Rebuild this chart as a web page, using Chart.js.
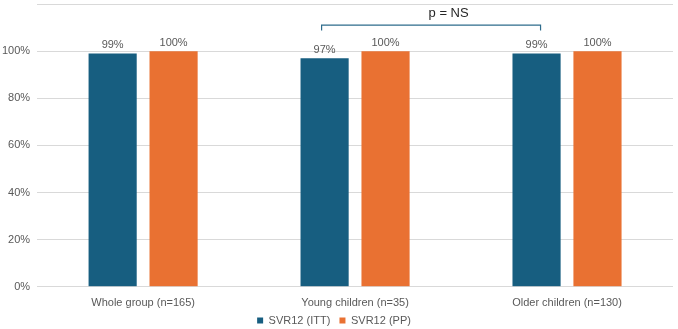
<!DOCTYPE html>
<html>
<head>
<meta charset="utf-8">
<script src="https://cdn.jsdelivr.net/npm/chart.js@4"></script>
<style>
  html, body { margin: 0; padding: 0; background: #fff; }
  #wrap { width: 678px; height: 329px; }
</style>
</head>
<body>
<div id="wrap"><canvas id="myChart"></canvas></div>
<script>
  const labels = ['Whole group (n=165)', 'Young children (n=35)', 'Older children (n=130)'];
  const ittValues = [99, 97, 99];
  const ppValues = [100, 100, 100];
  const seriesNames = ['SVR12 (ITT)', 'SVR12 (PP)'];
  const pLabel = 'p = NS';

  const grey = '#595959';
  const fontFam = '"Liberation Sans", Arial, sans-serif';

  // value labels above each bar
  const valueLabels = {
    id: 'valueLabels',
    afterDatasetsDraw(chart) {
      const ctx = chart.ctx;
      ctx.save();
      ctx.font = '11px ' + fontFam;
      ctx.fillStyle = grey;
      ctx.textAlign = 'center';
      ctx.textBaseline = 'bottom';
      chart.data.datasets.forEach((ds, i) => {
        chart.getDatasetMeta(i).data.forEach((bar, j) => {
          ctx.fillText(ds.data[j] + '%', bar.x, bar.y - 3);
        });
      });
      ctx.restore();
    }
  };

  // bracket between young and older children
  const bracket = {
    id: 'bracket',
    afterDatasetsDraw(chart) {
      const ctx = chart.ctx;
      const meta = chart.getDatasetMeta(0);
      const y = chart.scales.y;
      const x1 = meta.data[1].x - 3, x2 = meta.data[2].x + 4;
      const top = y.getPixelForValue(111);
      const foot = y.getPixelForValue(108.8);
      ctx.save();
      ctx.strokeStyle = '#2E6C8C';
      ctx.lineWidth = 1.2;
      ctx.beginPath();
      ctx.moveTo(x1, foot);
      ctx.lineTo(x1, top);
      ctx.lineTo(x2, top);
      ctx.lineTo(x2, foot);
      ctx.stroke();
      ctx.font = '13px ' + fontFam;
      ctx.fillStyle = '#262626';
      ctx.textAlign = 'center';
      ctx.textBaseline = 'middle';
      ctx.fillText(pLabel, x1 + (x2 - x1) * 0.58, top - 12);
      ctx.restore();
    }
  };

  const data = {
    labels: labels,
    datasets: [{
      label: seriesNames[0],
      backgroundColor: '#175E80',
      data: ittValues,
      categoryPercentage: 0.575,
      barPercentage: 0.79
    }, {
      label: seriesNames[1],
      backgroundColor: '#E97132',
      data: ppValues,
      categoryPercentage: 0.575,
      barPercentage: 0.79
    }]
  };

  const config = {
    type: 'bar',
    data: data,
    options: {
      responsive: true,
      maintainAspectRatio: false,
      animation: false,
      layout: { padding: { top: 4, right: 5, left: -5, bottom: -7 } },
      plugins: {
        legend: {
          position: 'bottom',
          labels: {
            boxWidth: 6,
            boxHeight: 6,
            padding: 3,
            color: grey,
            font: { size: 11, family: fontFam },
            // a little extra room between the two legend items
            generateLabels: chart => Chart.defaults.plugins.legend.labels.generateLabels(chart)
              .map((item, i) => i === 0 ? Object.assign(item, { text: item.text + '  ' }) : item)
          }
        },
        tooltip: { enabled: false }
      },
      scales: {
        x: {
          grid: { display: false },
          border: { display: false },
          ticks: {
            color: grey,
            padding: 2,
            font: { size: 11, family: fontFam }
          }
        },
        y: {
          min: 0,
          max: 120,
          border: { display: false },
          grid: { color: '#d9d9d9', drawTicks: false },
          afterFit(scale) { scale.paddingTop = 0; },
          ticks: {
            stepSize: 20,
            padding: 7,
            color: grey,
            font: { size: 11, family: fontFam },
            callback: v => v > 100 ? '' : v + '%'
          }
        }
      }
    },
    plugins: [valueLabels, bracket]
  };

  const myChart = new Chart(document.getElementById('myChart'), config);
</script>
</body>
</html>
